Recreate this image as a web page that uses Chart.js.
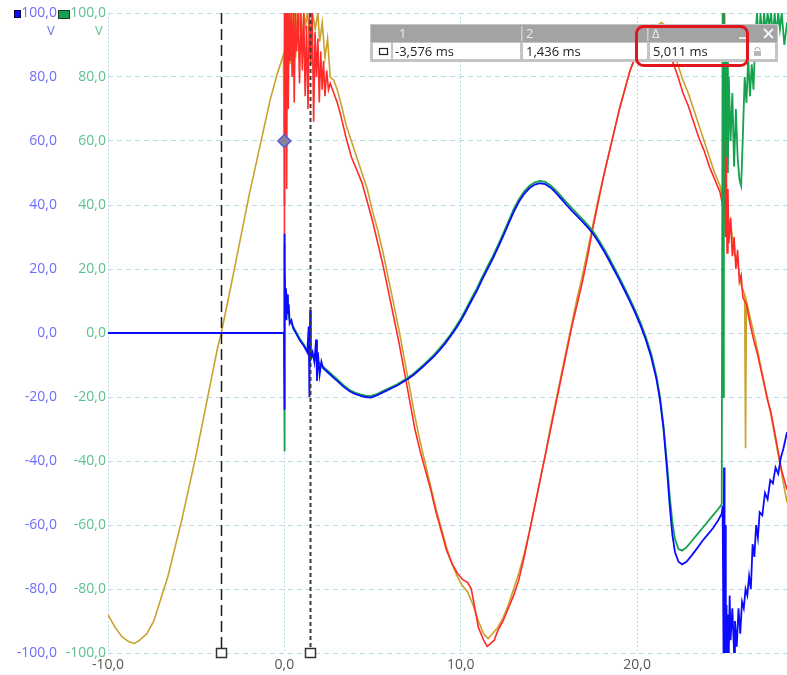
<!DOCTYPE html>
<html>
<head>
<meta charset="utf-8">
<script src="https://cdn.jsdelivr.net/npm/chart.js@4.4.1/dist/chart.umd.min.js"></script>
<style>
  html, body { margin: 0; padding: 0; background: #fff; }
  #wrap { width: 787px; height: 675px; }
</style>
</head>
<body>
<div id="wrap"><canvas id="scopeChart" width="787" height="675"></canvas></div>
<script>
// time in ms, value in V  -> [ms, V]
const yellowTrace = [[-10,-88],[-9.6,-92],[-9.2,-95],[-8.8,-96.5],[-8.5,-97],[-8.2,-96],[-7.8,-94],[-7.4,-90],[-7,-83],[-6.6,-76],[-6.2,-67],[-5.8,-58],[-5.4,-48],[-5,-38],[-4.6,-27],[-4.2,-16],[-3.8,-5],[-3.58,0],[-3.2,10],[-2.8,21],[-2.4,32],[-2,43],[-1.6,53],[-1.2,63],[-0.8,73],[-0.4,81],[-0.05,87],
  [0,40],[0.02,95],[0.08,82],[0.14,100],[0.2,88],[0.26,100],[0.32,84],[0.4,100],[0.48,92],[0.56,100],[0.64,86],[0.72,100],[0.8,94],[0.9,100],[1,90],[1.1,100],[1.2,96],[1.3,100],[1.45,92],[1.6,100],[1.75,95],[1.9,100],[2,91],[2.15,97],[2.3,86],[2.45,92],[2.6,80],
  [2.8,79],[3,76],[3.2,72],[3.5,65],[3.8,60],[4.1,55],[4.4,50],[4.7,45],[5,38],[5.3,32],[5.6,25],[5.9,17],[6.2,9],[6.5,1],[6.8,-8],[7.1,-17],[7.4,-26],[7.7,-34],[8,-41],[8.3,-48],[8.6,-55],[8.9,-61],[9.2,-67],[9.5,-72],[9.8,-76],[10.1,-79],[10.4,-81],[10.7,-85],[11,-90],[11.3,-94],[11.55,-95.5],[11.8,-94],[12.1,-92],[12.4,-89],[12.7,-85],[13,-80],[13.3,-75],[13.6,-69],[13.9,-62],[14.2,-54],[14.5,-46],[14.8,-38],[15.1,-29],[15.4,-21],[15.7,-13],[16,-5],[16.3,3],[16.6,11],[16.9,18],[17.2,26],[17.5,34],[17.8,42],[18.1,49],[18.4,56],[18.7,63],[19,70],[19.3,76],[19.6,82],[19.9,86],[20.2,89],[20.5,92],[20.8,94.5],[21.1,96],[21.4,97],[21.7,95.5],[22,91],[22.3,84],[22.6,79],[22.9,75],[23.2,70],[23.5,65],[23.8,60],[24.1,55],[24.4,50],[24.7,46],[24.9,41],
  [25.1,30],[25.3,35],[25.5,25],[25.7,22],[25.9,15],[26.1,12],[26.15,-36],[26.2,10],[26.4,5],[26.7,-2],[27,-10],[27.3,-18],[27.6,-26],[27.9,-35],[28.2,-44],[28.5,-53]];

const redTrace = [[-10,0],[-0.01,0],[0,0],[0.01,100],[0.05,60],[0.09,100],[0.13,45],[0.17,100],[0.22,70],[0.27,100],[0.32,85],[0.38,100],[0.44,80],[0.5,100],[0.56,72],[0.62,100],[0.7,88],[0.78,100],[0.86,78],[0.94,100],[1.02,82],[1.1,100],[1.18,74],[1.26,96],[1.34,70],[1.42,100],[1.5,84],[1.58,100],[1.66,66],[1.74,94],[1.82,80],[1.9,92],[1.98,72],[2.06,88],[2.14,76],[2.22,85],[2.3,74],[2.4,82],[2.5,76],[2.6,78],
  [2.8,75],[3,72],[3.2,68],[3.5,61],[3.8,55],[4.1,51],[4.4,47],[4.7,41],[5,35],[5.3,28],[5.6,21],[5.9,13],[6.2,5],[6.5,-3],[6.8,-12],[7.1,-21],[7.4,-30],[7.7,-37],[8,-43],[8.3,-49],[8.6,-56],[8.9,-62],[9.2,-68],[9.5,-72],[9.8,-75],[10.1,-77],[10.4,-78],[10.6,-80],[10.8,-86],[11,-92],[11.3,-96],[11.5,-98],[11.7,-97],[11.9,-96],[12.1,-93],[12.4,-90],[12.7,-86],[13,-82],[13.3,-77],[13.6,-70],[13.9,-62],[14.2,-54],[14.5,-46],[14.8,-38],[15.1,-30],[15.4,-22],[15.7,-14],[16,-6],[16.3,2],[16.6,9],[16.9,16],[17.2,24],[17.5,33],[17.8,41],[18.1,49],[18.4,56],[18.7,63],[19,70],[19.3,76],[19.6,82],[19.9,86.5],[20.2,89.5],[20.5,91.5],[20.8,92.5],[21.1,92.5],[21.4,91],[21.7,88.5],[22,85],[22.3,80.5],[22.6,75],[22.9,71],[23.2,66],[23.5,61],[23.8,57],[24.1,52],[24.4,48],[24.7,44],[24.85,40],
  [24.9,100],[24.93,38],[24.96,100],[25,30],[25.05,60],[25.1,25],[25.15,45],[25.2,28],[25.3,36],[25.4,24],[25.5,30],[25.6,20],[25.7,26],[25.8,16],[25.9,18],[26,11],[26.2,9],[26.4,3],[26.6,-2],[26.8,-6],[27,-11],[27.2,-16],[27.4,-21],[27.6,-25],[27.8,-31],[28,-37],[28.2,-43],[28.5,-49]];

const blueTrace = [[-10,0],[-0.02,0],[0,31],[0.01,-24],[0.03,20],[0.06,8],[0.09,14],[0.12,4],[0.15,12],[0.2,6],[0.25,9],[0.3,3],[0.4,4],[0.5,1.5],[0.7,-0.5],[0.9,-2.5],[1.1,-4],[1.3,-6],[1.38,2],[1.42,-20],[1.46,7],[1.5,-8],[1.6,-6],[1.7,-9],[1.8,-2],[1.85,-15],[1.9,-6],[2,-13],[2.1,-9],[2.2,-11],
  [2.5,-12.5],[2.8,-14],[3.1,-15.5],[3.4,-17],[3.7,-18.2],[4,-19],[4.3,-19.6],[4.6,-20],[4.9,-20.2],[5.2,-19.6],[5.5,-18.8],[5.8,-18],[6.1,-17.2],[6.4,-16.4],[6.7,-15.4],[7,-14.4],[7.3,-13.2],[7.6,-11.8],[7.9,-10.3],[8.2,-8.8],[8.5,-7.2],[8.8,-5.4],[9.1,-3.4],[9.4,-1.2],[9.7,1.2],[10,3.8],[10.3,6.8],[10.6,10],[10.9,13],[11.2,16.5],[11.5,19.8],[11.8,23],[12.1,26.5],[12.4,30.2],[12.7,34],[13,37.8],[13.3,41],[13.6,43.5],[13.9,45.3],[14.2,46.4],[14.5,46.8],[14.8,46.5],[15.1,45.4],[15.4,43.8],[15.7,41.9],[16,40],[16.3,38.2],[16.6,36.5],[16.9,34.8],[17.2,33],[17.5,31],[17.8,28.5],[18.1,25.8],[18.4,22.8],[18.7,19.7],[19,16.5],[19.3,13.2],[19.6,9.8],[19.9,6.2],[20.2,2.3],[20.5,-2.2],[20.8,-7.5],[21.1,-14.5],[21.3,-21],[21.5,-30],[21.7,-43],[21.85,-54],[22,-63],[22.15,-68.5],[22.35,-71.5],[22.55,-72.3],[22.8,-71.5],[23.1,-69.5],[23.4,-67.3],[23.7,-65],[24,-63],[24.3,-61],[24.6,-58.5],[24.8,-56.5],
  [24.85,-54],[24.9,-100],[24.93,-42],[24.96,-100],[25,-60],[25.03,-100],[25.07,-85],[25.1,-100],[25.15,-88],[25.2,-100],[25.25,-82],[25.3,-96],[25.4,-86],[25.5,-100],[25.55,-90],[25.65,-98],[25.75,-86],[25.85,-94],[25.95,-84],[26.05,-86],[26.15,-80],[26.25,-82],[26.35,-76],[26.45,-80],[26.55,-66],[26.65,-70],[26.75,-60],[26.85,-64],[26.95,-56],[27.1,-57],[27.25,-50],[27.4,-52],[27.55,-46],[27.7,-47],[27.85,-42],[28,-44],[28.15,-39],[28.3,-36],[28.5,-31]];

const greenTrace = [[-10,0],[-0.02,0],[0,28],[0.01,-37],[0.03,18],[0.06,9],[0.1,13],[0.15,11],[0.2,7],[0.3,4],[0.5,2],[0.7,0],[0.9,-2],[1.1,-3.5],[1.3,-5.5],[1.5,-7],[1.7,-8],[1.9,-9],[2.2,-10.5],[2.5,-12],[2.8,-13.5],[3.1,-15],[3.4,-16.5],[3.7,-17.8],[4,-18.6],[4.3,-19.2],[4.6,-19.6],[4.9,-19.7],[5.2,-19.2],[5.5,-18.4],[5.8,-17.6],[6.1,-16.8],[6.4,-16],[6.7,-15],[7,-14],[7.3,-12.8],[7.6,-11.4],[7.9,-9.9],[8.2,-8.3],[8.5,-6.7],[8.8,-4.8],[9.1,-2.8],[9.4,-0.6],[9.7,1.8],[10,4.5],[10.3,7.5],[10.6,10.7],[10.9,13.8],[11.2,17.3],[11.5,20.6],[11.8,23.8],[12.1,27.3],[12.4,31],[12.7,34.8],[13,38.6],[13.3,41.8],[13.6,44.3],[13.9,46],[14.2,47.1],[14.5,47.5],[14.8,47.2],[15.1,46.1],[15.4,44.6],[15.7,42.7],[16,40.8],[16.3,39],[16.6,37.3],[16.9,35.6],[17.2,33.8],[17.5,31.8],[17.8,29.3],[18.1,26.6],[18.4,23.6],[18.7,20.5],[19,17.3],[19.3,14],[19.6,10.6],[19.9,7],[20.2,3.2],[20.5,-1.3],[20.8,-6.5],[21.1,-13.5],[21.3,-20],[21.5,-29],[21.7,-41],[21.85,-51],[22,-59],[22.15,-64.5],[22.35,-67.5],[22.55,-68],[22.8,-67],[23.1,-65],[23.4,-63],[23.7,-61],[24,-59],[24.3,-57],[24.6,-55],[24.8,-53.5],
  [24.85,100],[24.88,-20],[24.92,100],[24.96,60],[25,90],[25.05,55],[25.1,85],[25.15,50],[25.2,80],[25.3,60],[25.4,75],[25.5,52],[25.6,70],[25.7,55],[25.8,48],[25.9,46],[26,62],[26.1,80],[26.2,72],[26.3,86],[26.4,74],[26.5,84],[26.6,76],[26.7,92],[26.8,100],[26.9,90],[27,100],[27.1,92],[27.2,100],[27.3,94],[27.4,100],[27.5,96],[27.6,100],[27.7,92],[27.8,100],[27.9,93],[28,100],[28.1,95],[28.2,100],[28.35,90],[28.5,97]];

const triggerMark = [[0, 60]];
const cursorTimes = [-3.576, 1.436];
const cursorLabels = ['1', '2', '\u0394'];
const cursorReadouts = ['-3,576 ms', '1,436 ms', '5,011 ms'];
const xTicks = [-10, 0, 10, 20];
const yTicks = [-100, -80, -60, -40, -20, 0, 20, 40, 60, 80, 100];

const fmt = v => v.toFixed(1).replace('.', ',');
const toPoints = pairs => pairs.map(p => ({ x: p[0], y: p[1] }));
const gridBlue = '#b8dcea';
const labelFont = { family: 'Open Sans', size: 14 };

const overlay = {
  id: 'overlay',
  afterDatasetsDraw(chart) {
    const { ctx, chartArea: a } = chart;
    const x = chart.scales.x;
    cursorTimes.forEach((t, i) => {
      const px = Math.round(x.getPixelForValue(t)) + 0.5;
      ctx.save();
      ctx.strokeStyle = i ? '#3c3c3c' : '#1a1a1a';
      ctx.lineWidth = i ? 2 : 1.5;
      ctx.setLineDash(i ? [4, 3] : [11, 5]);
      ctx.beginPath();
      ctx.moveTo(px, a.top);
      ctx.lineTo(px, a.bottom - 5);
      ctx.stroke();
      ctx.setLineDash([]);
      ctx.fillStyle = '#fff';
      ctx.strokeStyle = '#333';
      ctx.lineWidth = 1.5;
      ctx.fillRect(px - 5, a.bottom - 4.5, 10, 9);
      ctx.strokeRect(px - 5, a.bottom - 4.5, 10, 9);
      ctx.restore();
    });
  },
  afterDraw(chart) {
    const ctx = chart.ctx;
    ctx.save();
    // channel squares + units
    ctx.fillStyle = '#0d0dff';
    ctx.fillRect(14, 10, 7, 8);
    ctx.strokeStyle = '#00003a';
    ctx.lineWidth = 1;
    ctx.strokeRect(14.5, 10.5, 6, 7);
    ctx.fillStyle = '#14a050';
    ctx.fillRect(58, 10, 12, 9);
    ctx.strokeStyle = '#1d3a26';
    ctx.strokeRect(58.5, 10.5, 11, 8);
    ctx.font = '13px "Open Sans"';
    ctx.textAlign = 'center';
    ctx.textBaseline = 'middle';
    ctx.fillStyle = '#6e6cff';
    ctx.fillText('V', 51, 31);
    ctx.fillStyle = '#5cc090';
    ctx.fillText('V', 99, 31);

    // cursor table
    ctx.fillStyle = '#c4c4c4';
    ctx.fillRect(370, 24, 408, 38);
    ctx.fillStyle = '#a3a3a3';
    ctx.fillRect(371, 25, 406, 17);
    ctx.fillStyle = '#fff';
    ctx.fillRect(373, 43, 18, 16);
    ctx.fillRect(393, 43, 127, 16);
    ctx.fillRect(523, 43, 124, 16);
    ctx.fillRect(650, 43, 125, 16);
    ctx.fillStyle = '#cfcfcf';
    ctx.fillRect(521, 26, 1.5, 15);
    ctx.fillRect(647, 26, 1.5, 15);
    ctx.fillStyle = '#ececec';
    ctx.font = '13px "Open Sans"';
    ctx.textAlign = 'left';
    ctx.fillText(cursorLabels[0], 399, 34);
    ctx.fillText(cursorLabels[1], 526, 34);
    ctx.fillText(cursorLabels[2], 652, 34);
    ctx.fillRect(739, 37, 8, 2);
    ctx.strokeStyle = '#f4f4f4';
    ctx.lineWidth = 2;
    ctx.beginPath();
    ctx.moveTo(764, 29); ctx.lineTo(773, 38);
    ctx.moveTo(773, 29); ctx.lineTo(764, 38);
    ctx.stroke();
    ctx.fillStyle = '#fff';
    ctx.strokeStyle = '#222';
    ctx.lineWidth = 1.2;
    ctx.fillRect(379.5, 48.5, 8, 6);
    ctx.strokeRect(379.5, 48.5, 8, 6);
    ctx.fillStyle = '#222';
    ctx.font = '13px "Open Sans"';
    ctx.fillText(cursorReadouts[0], 395, 52);
    ctx.fillText(cursorReadouts[1], 526, 52);
    ctx.fillText(cursorReadouts[2], 653, 52);
    // lock icon
    ctx.fillStyle = '#b8b8b8';
    ctx.fillRect(754, 51, 7, 5);
    ctx.strokeStyle = '#b8b8b8';
    ctx.lineWidth = 1.2;
    ctx.beginPath();
    ctx.arc(757.5, 50, 2.5, Math.PI, 0);
    ctx.stroke();
    // highlight around delta
    ctx.strokeStyle = '#e3141c';
    ctx.lineWidth = 3;
    ctx.beginPath();
    ctx.roundRect(636.5, 26.5, 111, 39, 7);
    ctx.stroke();
    ctx.restore();
  }
};

new Chart(document.getElementById('scopeChart'), {
  type: 'line',
  data: {
    datasets: [
      { data: toPoints(triggerMark), yAxisID: 'yBlue', showLine: false, pointStyle: 'rectRot', pointRadius: 6.5, pointBackgroundColor: '#85859a', pointBorderColor: '#5a5ad8', pointBorderWidth: 1.5 },
      { data: toPoints(blueTrace), yAxisID: 'yBlue', borderColor: '#0b0bff', borderWidth: 1.8 },
      { data: toPoints(greenTrace), yAxisID: 'yGreen', borderColor: '#15a24c', borderWidth: 1.8 },
      { data: toPoints(redTrace), yAxisID: 'yBlue', borderColor: '#ff2a2a', borderWidth: 1.6 },
      { data: toPoints(yellowTrace), yAxisID: 'yBlue', borderColor: '#c9a12c', borderWidth: 1.6 }
    ]
  },
  options: {
    responsive: false,
    animation: false,
    events: [],
    layout: { autoPadding: false, padding: { top: 13, right: 0, bottom: 0, left: 0 } },
    elements: { point: { radius: 0 }, line: { tension: 0 } },
    plugins: { legend: { display: false }, tooltip: { enabled: false } },
    scales: {
      x: {
        type: 'linear',
        min: -10,
        max: 28.5,
        afterBuildTicks: axis => { axis.ticks = xTicks.map(v => ({ value: v })); },
        afterFit: axis => { axis.height = 22; },
        grid: { color: gridBlue, drawTicks: false },
        border: { display: false, dash: [2, 2] },
        ticks: { color: '#5d5650', font: labelFont, padding: 4, maxRotation: 0, callback: v => fmt(v) }
      },
      yBlue: {
        position: 'left',
        weight: 2,
        min: -100,
        max: 100,
        afterBuildTicks: axis => { axis.ticks = yTicks.map(v => ({ value: v })); },
        afterFit: axis => { axis.width = 60; },
        grid: { color: gridBlue, drawTicks: false },
        border: { display: false, dash: [5, 4] },
        ticks: { color: '#6e6cff', font: labelFont, padding: 3, callback: v => fmt(v) }
      },
      yGreen: {
        position: 'left',
        weight: 1,
        min: -100,
        max: 100,
        afterBuildTicks: axis => { axis.ticks = yTicks.map(v => ({ value: v })); },
        afterFit: axis => { axis.width = 48; },
        grid: { display: false, drawTicks: false },
        border: { display: false },
        ticks: { color: '#5cc090', font: labelFont, padding: 2, callback: v => fmt(v) }
      }
    }
  },
  plugins: [overlay]
});
</script>
</body>
</html>
